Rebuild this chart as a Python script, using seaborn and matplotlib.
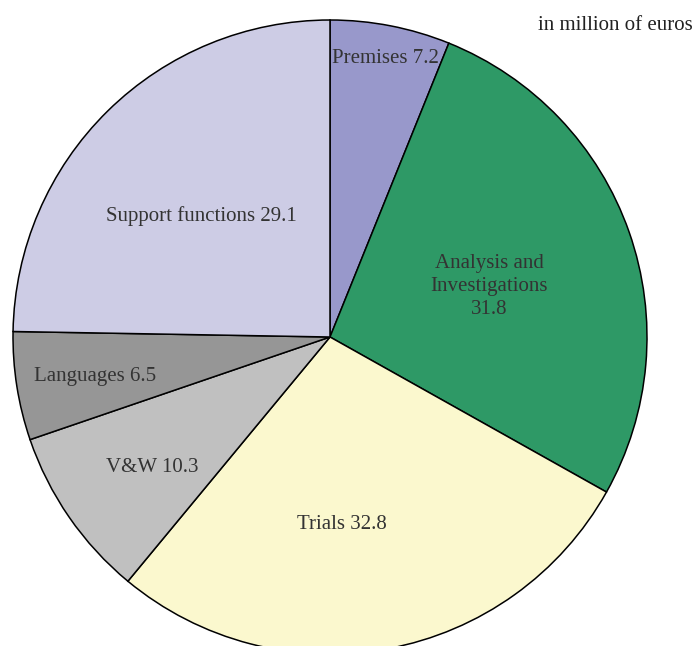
import matplotlib
matplotlib.use("Agg")
import matplotlib.pyplot as plt
import seaborn as sns

categories = ["Premises", "Analysis and\nInvestigations", "Trials", "V&W", "Languages", "Support functions"]
values = [7.2, 31.8, 32.8, 10.3, 6.5, 29.1]
colors = ["#9898CB", "#2E9966", "#FBF8CE", "#C0C0C0", "#969696", "#CDCCE5"]
unit_note = "in million of euros"

# label anchor points in pie units (radius 1 = pie edge)
label_xy = [(0.174, 0.877), (0.502, 0.158), (0.038, -0.593),
            (-0.562, -0.413), (-0.741, -0.126), (-0.407, 0.382)]

sns.set_theme(style="white")
plt.rcParams["font.family"] = ["Liberation Serif", "DejaVu Serif"]

W, H = 700, 646
fig = plt.figure(figsize=(W / 100, H / 100), dpi=100)

cx, cy, r = 330, 337, 317
lim = 1.01
half = r * lim
ax = fig.add_axes([(cx - half) / W, (H - cy - half) / H, 2 * half / W, 2 * half / H])

palette = sns.color_palette(colors)
wedges, _ = ax.pie(values, colors=palette, startangle=90, counterclock=False,
                   wedgeprops=dict(edgecolor="black", linewidth=1.1))
for w in wedges:
    w.set_clip_on(False)

for name, val, (x, y) in zip(categories, values, label_xy):
    sep = "\n" if "\n" in name else " "
    ax.text(x, y, f"{name}{sep}{val}", ha="center", va="center",
            fontsize=15, color="#333333", linespacing=1.28)

ax.set_xlim(-lim, lim)
ax.set_ylim(-lim, lim)
ax.set_aspect("equal")
ax.axis("off")

fig.text(693 / W, 1 - 26 / H, unit_note, ha="right", va="center",
         fontsize=15, color="#222222")

fig.savefig("out.png", dpi=100)
